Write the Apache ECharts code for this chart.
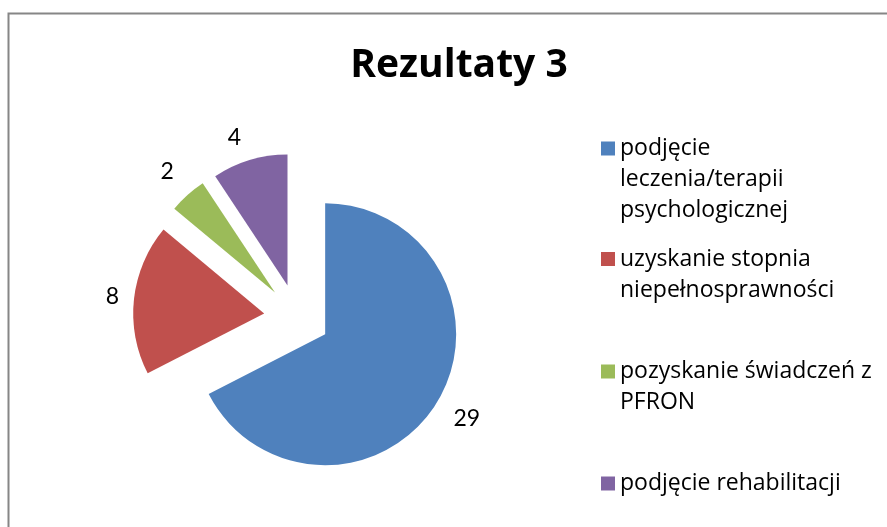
<!DOCTYPE html>
<html>
<head>
<meta charset="utf-8">
<title>Rezultaty 3</title>
<script src="https://cdn.jsdelivr.net/npm/echarts@6/dist/echarts.min.js"></script>
<style>
  html, body { margin: 0; padding: 0; background: #fff; }
  #chart { width: 887px; height: 527px; }
</style>
</head>
<body>
<div id="chart"></div>
<script>
// dane
var categories = [
  'podjęcie leczenia/terapii psychologicznej',
  'uzyskanie stopnia niepełnosprawności',
  'pozyskanie świadczeń z PFRON',
  'podjęcie rehabilitacji'
];
var values = [29, 8, 2, 4];
// podpisy legendy, lamane jak w oryginale
var legendLines = [
  ['podjęcie', 'leczenia/terapii', 'psychologicznej'],
  ['uzyskanie stopnia', 'niepełnosprawności'],
  ['pozyskanie świadczeń z', 'PFRON'],
  ['podjęcie rehabilitacji']
];

var palette = ['#4F81BD', '#C0504D', '#9BBB59', '#8064A2'];
var FONT = 'Open Sans';
var LABEL_FONT = 'Lato';
var LINE_H = 31;
var legendTops = [71, 212.5, 325, 468];
// odleglosc etykiet wartosci od wycinka [length, length2]
var labelDist = [[31, -15], [22, -12], [31, -12], [23.5, -3]];

var pieData = [];
for (var i = 0; i < categories.length; i++) {
  pieData.push({
    name: categories[i],
    value: values[i],
    selected: true,
    itemStyle: { color: palette[i] },
    select: { itemStyle: { color: palette[i], borderWidth: 0 } },
    labelLine: { show: false, length: labelDist[i][0], length2: labelDist[i][1] }
  });
}

// jedna legenda na pozycje, zeby ikona stala przy pierwszej linii
var legends = [];
categories.forEach(function (name, i) {
  var lines = legendLines[i];
  var pad = [];
  for (var k = 1; k < lines.length; k++) pad.push('');
  var txt = pad.concat(lines).join('\n');
  legends.push({
    data: [{ name: name, icon: 'rect' }],
    orient: 'vertical',
    left: 601,
    top: legendTops[i],
    padding: 0,
    itemWidth: 14,
    itemHeight: 14,
    selectedMode: false,
    formatter: function () { return txt; },
    textStyle: {
      fontFamily: FONT,
      fontSize: 23,
      lineHeight: LINE_H,
      color: '#000'
    }
  });
});

var chart = echarts.init(document.getElementById('chart'));
chart.setOption({
  animation: false,
  color: palette,
  title: {
    text: 'Rezultaty 3',
    left: 454,
    top: 41,
    textAlign: 'center',
    textStyle: {
      fontFamily: FONT,
      fontSize: 39,
      fontWeight: 'bold',
      color: '#000'
    }
  },
  legend: legends,
  graphic: [{
    type: 'rect',
    silent: true,
    shape: { x: 8.5, y: 13.5, width: 1000, height: 1000 },
    style: { fill: 'none', stroke: '#868686', lineWidth: 2 }
  }],
  series: [{
    type: 'pie',
    center: [297, 317],
    radius: 131,
    startAngle: 90,
    clockwise: true,
    selectedMode: 'multiple',
    selectedOffset: 33,
    avoidLabelOverlap: false,
    emphasis: { scale: false },
    label: {
      show: true,
      position: 'outside',
      formatter: '{c}',
      fontFamily: LABEL_FONT,
      fontSize: 23,
      color: '#000',
      distanceToLabelLine: 5
    },
    labelLine: { show: false },
    data: pieData
  }]
});
</script>
</body>
</html>
